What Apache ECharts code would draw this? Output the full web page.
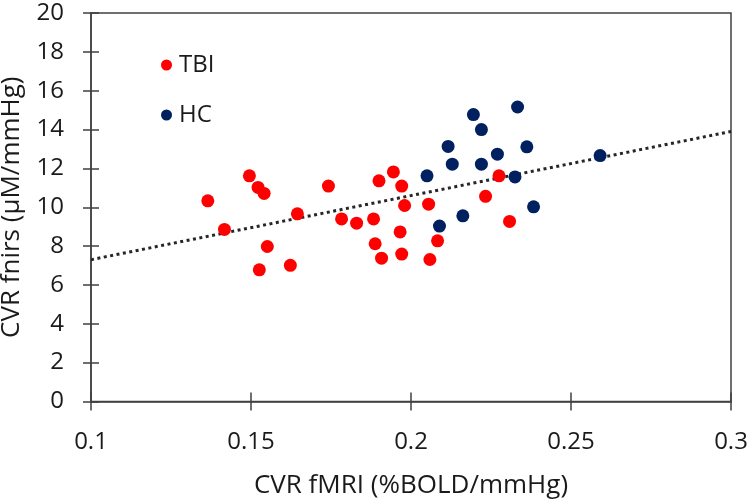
<!DOCTYPE html>
<html>
<head>
<meta charset="utf-8">
<script src="https://cdn.jsdelivr.net/npm/echarts@6/dist/echarts.min.js"></script>
<style>html,body{margin:0;padding:0;background:#fff}#c{width:750px;height:502px}</style>
</head>
<body>
<div id="c"></div>
<script>
// Data
const seriesNames = ['TBI', 'HC'];
const tbiPoints = [
  [0.1365, 10.33], [0.1417, 8.86], [0.1495, 11.62], [0.1522, 11.02], [0.1541, 10.71],
  [0.1645, 9.66], [0.1551, 7.98], [0.1526, 6.78], [0.1623, 7.01], [0.1742, 11.09],
  [0.1783, 9.40], [0.1830, 9.18], [0.1883, 9.40], [0.1900, 11.36], [0.1945, 11.82],
  [0.1971, 11.09], [0.1980, 10.09], [0.1966, 8.73], [0.1888, 8.12], [0.1908, 7.38],
  [0.1971, 7.59], [0.2055, 10.16], [0.2083, 8.27], [0.2059, 7.31], [0.2233, 10.56],
  [0.2275, 11.62], [0.2308, 9.27]
];
const hcPoints = [
  [0.2050, 11.62], [0.2116, 13.13], [0.2129, 12.22], [0.2220, 12.22], [0.2270, 12.73],
  [0.2325, 11.56], [0.2162, 9.56], [0.2089, 9.03], [0.2195, 14.77], [0.2333, 15.16],
  [0.2220, 14.00], [0.2362, 13.11], [0.2591, 12.66], [0.2383, 10.02]
];
const trendLine = [[0.1, 7.3], [0.3, 13.9]];
const xRange = [0.1, 0.3, 0.05];
const yRange = [0, 20, 2];
const xTitle = 'CVR fMRI (%BOLD/mmHg)';
const yTitle = 'CVR fnirs (µM/mmHg)';

const FONT = '"Open Sans", "Liberation Sans", sans-serif';
const AX = '#404040';
const TXT = '#1a1a1a';
const chart = echarts.init(document.getElementById('c'));

function xAxisDef(inside, withLabels) {
  return {
    type: 'value', min: xRange[0], max: xRange[1], interval: xRange[2],
    position: 'bottom',
    name: withLabels ? xTitle : '', nameLocation: 'middle', nameGap: 71,
    nameTextStyle: { fontFamily: FONT, fontSize: 26, color: TXT },
    axisLine: { show: withLabels, lineStyle: { color: AX, width: 1.5 } },
    axisTick: { show: true, inside: inside, length: 9, lineStyle: { color: AX, width: 1.5 } },
    axisLabel: { show: withLabels, margin: 29, fontFamily: FONT, fontSize: 24, color: TXT,
      formatter: v => String(+v.toFixed(2)) },
    splitLine: { show: false }
  };
}
function yAxisDef(inside, withLabels) {
  return {
    type: 'value', min: yRange[0], max: yRange[1], interval: yRange[2],
    position: 'left',
    name: withLabels ? yTitle : '', nameLocation: 'middle', nameGap: 66, nameRotate: 90,
    nameTextStyle: { fontFamily: FONT, fontSize: 26, color: TXT },
    axisLine: { show: withLabels, lineStyle: { color: AX, width: 1.5 } },
    axisTick: { show: true, inside: inside, length: 8, lineStyle: { color: AX, width: 1.5 } },
    axisLabel: { show: withLabels, margin: 27, fontFamily: FONT, fontSize: 24, color: TXT },
    splitLine: { show: false }
  };
}

chart.setOption({
  animation: false,
  backgroundColor: '#fff',
  grid: { left: 91, right: 19, top: 13, bottom: 100.5, show: true, borderColor: AX, borderWidth: 1.5,
    containLabel: false, outerBoundsMode: 'none' },
  legend: {
    data: seriesNames, orient: 'vertical', left: 156, top: 48, itemGap: 26,
    icon: 'circle', itemWidth: 11, itemHeight: 11,
    textStyle: { fontFamily: FONT, fontSize: 24, color: TXT, padding: [0, 0, 0, 2] }
  },
  xAxis: [xAxisDef(false, true), xAxisDef(true, false)],
  yAxis: [yAxisDef(false, true), yAxisDef(true, false)],
  series: [
    { name: 'trend', type: 'line', data: trendLine, symbol: 'none', silent: true,
      lineStyle: { color: '#262626', width: 3, type: [3, 3.5], cap: 'butt' }, z: 1 },
    { name: seriesNames[0], type: 'scatter', data: tbiPoints, symbolSize: 13,
      itemStyle: { color: '#ff0000', opacity: 1 }, z: 3 },
    { name: seriesNames[1], type: 'scatter', data: hcPoints, symbolSize: 13,
      itemStyle: { color: '#002060', opacity: 1 }, z: 3 }
  ]
});
</script>
</body>
</html>
